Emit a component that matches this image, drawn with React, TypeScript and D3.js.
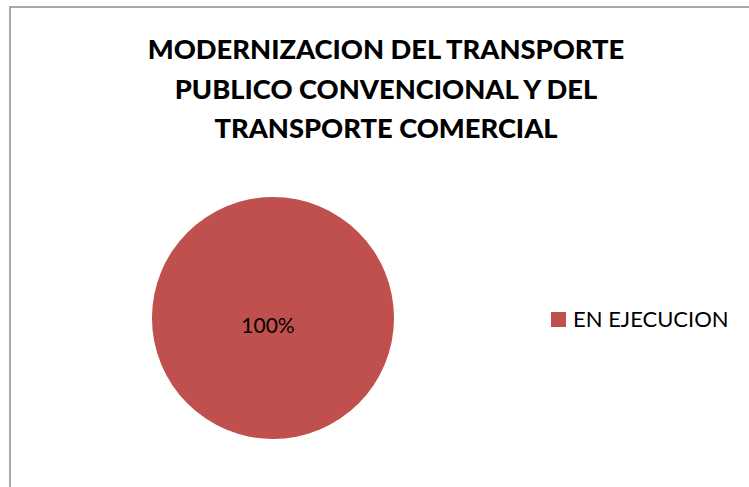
import React, { useRef, useEffect } from 'react';
import * as d3 from 'd3';

const categories = ['EN EJECUCION'];
const values = [1];
const colors = ['#C0504D'];
const titleLines = [
  'MODERNIZACION DEL TRANSPORTE',
  'PUBLICO CONVENCIONAL Y DEL',
  'TRANSPORTE COMERCIAL',
];

const App = () => {
  const ref = useRef<SVGSVGElement>(null);

  useEffect(() => {
    const width = 749;
    const height = 487;
    const svg = d3.select(ref.current);
    svg.selectAll('*').remove();
    svg.attr('width', width).attr('height', height);

    // chart frame (cut off at right and bottom like the reference)
    svg
      .append('rect')
      .attr('x', 10)
      .attr('y', 7)
      .attr('width', 760)
      .attr('height', 500)
      .attr('fill', '#fff')
      .attr('stroke', '#8c8c8c')
      .attr('stroke-width', 1.5);

    // title
    svg
      .append('g')
      .selectAll('text')
      .data(titleLines)
      .enter()
      .append('text')
      .attr('x', 386)
      .attr('y', (_, i) => 59 + i * 39.5)
      .attr('text-anchor', 'middle')
      .attr('font-family', 'Lato, sans-serif')
      .attr('font-weight', 900)
      .attr('font-size', 27.3)
      .attr('fill', '#000')
      .text((d) => d);

    // pie
    const cx = 273;
    const cy = 318;
    const r = 121;
    const total = d3.sum(values);
    const pie = d3.pie<number>().sort(null)(values);
    const arc = d3.arc<d3.PieArcDatum<number>>().innerRadius(0).outerRadius(r);
    const g = svg.append('g').attr('transform', `translate(${cx},${cy})`);
    g.selectAll('path')
      .data(pie)
      .enter()
      .append('path')
      .attr('d', arc)
      .attr('fill', (_, i) => colors[i]);

    g.selectAll('text')
      .data(pie)
      .enter()
      .append('text')
      .attr('x', -5)
      .attr('y', 15)
      .attr('text-anchor', 'middle')
      .attr('font-family', 'Lato, sans-serif')
      .attr('font-size', 21)
      .attr('fill', '#000')
      .text((d) => d3.format('.0%')(d.value / total));

    // legend
    const legend = svg.append('g').attr('transform', 'translate(551,312)');
    const items = legend
      .selectAll('g')
      .data(categories)
      .enter()
      .append('g')
      .attr('transform', (_, i) => `translate(0,${i * 24})`);
    items
      .append('rect')
      .attr('width', 15)
      .attr('height', 15)
      .attr('fill', (_, i) => colors[i]);
    items
      .append('text')
      .attr('x', 22)
      .attr('y', 15)
      .attr('font-family', 'Lato, sans-serif')
      .attr('font-size', 22)
      .attr('fill', '#000')
      .text((d) => d);
  }, []);

  return (
    <svg
      ref={ref}
      style={{ position: 'absolute', left: 0, top: 0, display: 'block' }}
    />
  );
};

export default App;
